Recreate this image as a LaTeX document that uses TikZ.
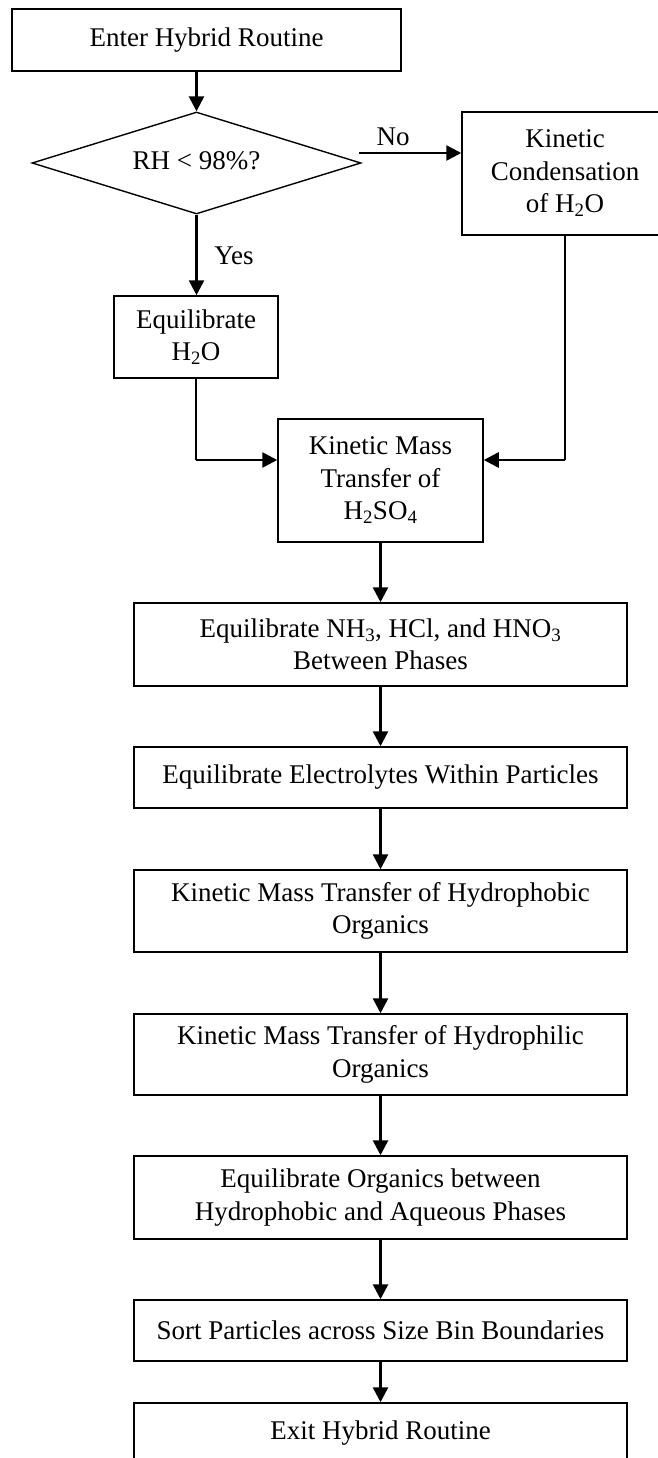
\documentclass[tikz,border=0pt]{standalone}
\usepackage{fontspec}
\setmainfont{Liberation Serif}
\usetikzlibrary{arrows.meta,shapes.geometric}
\begin{document}
\begin{tikzpicture}[x=1pt,y=-1pt,
  txt/.style={font=\fontsize{27}{32.5}\selectfont, align=center},
  box/.style={txt, draw, line width=1.5pt, rectangle, inner sep=0pt},
  arr/.style={line width=2.6pt, -{Triangle[length=15pt,width=15pt]}},
  thinline/.style={line width=1.4pt}]
\useasboundingbox (0,0) rectangle (658,1458);
\fill[white] (0,0) rectangle (658,1458);

\node[box, minimum width=389pt, minimum height=62pt] (enter) at (206.5,40) {Enter Hybrid Routine};
\node[txt, draw, diamond, aspect=3.2, line width=1.4pt, minimum width=329pt, minimum height=102pt, inner sep=0pt] (dia) at (196.5,163) {\raisebox{5pt}{RH < 98\%?}};
\node[box, minimum width=206pt, minimum height=123pt] (kc) at (565,173.5) {Kinetic\\Condensation\\of H\textsubscript{2}O};
\node[box, minimum width=164pt, minimum height=82pt] (eq) at (196,337) {Equilibrate\\H\textsubscript{2}O};
\node[box, minimum width=205pt, minimum height=123pt] (kmt) at (380.5,480.5) {Kinetic Mass\\Transfer of\\H\textsubscript{2}SO\textsubscript{4}};
\node[box, minimum width=493pt, minimum height=83pt] (nh3) at (380.5,644.5) {Equilibrate NH\textsubscript{3}, HCl, and HNO\textsubscript{3}\\Between Phases};
\node[box, minimum width=493pt, minimum height=61pt] (elec) at (380.5,777.5) {Equilibrate Electrolytes Within Particles};
\node[box, minimum width=493pt, minimum height=82pt] (phob) at (380.5,911) {Kinetic Mass Transfer of Hydrophobic\\Organics};
\node[box, minimum width=493pt, minimum height=81pt] (phil) at (380.5,1054.5) {Kinetic Mass Transfer of Hydrophilic\\Organics};
\node[box, minimum width=493pt, minimum height=83pt] (org) at (380.5,1197.5) {Equilibrate Organics between\\Hydrophobic and Aqueous Phases};
\node[box, minimum width=493pt, minimum height=61pt] (sort) at (380.5,1330.5) {Sort Particles across Size Bin Boundaries};
\node[box, minimum width=493pt, minimum height=61pt] (exit) at (380.5,1433.5) {Exit Hybrid Routine};

\node[txt] (nolbl) at (393,137) {No};
\node[txt] (yeslbl) at (234,256) {Yes};

\draw[arr] (enter.south -| dia.north) -- (dia.north);
\coordinate (nostart) at (359,153);
\draw[arr] (nostart) -- (nostart -| kc.west);
\draw[arr] (dia.south) -- (dia.south |- eq.north);
\coordinate (j1) at (196,460);
\coordinate (j2) at (565,460);
\draw[thinline] (eq.south) -- (j1);
\draw[arr] (j1) -- (j1 -| kmt.west);
\draw[thinline] (kc.south) -- (j2);
\draw[arr] (j2) -- (j2 -| kmt.east);
\draw[arr] (kmt.south) -- (nh3.north);
\draw[arr] (nh3.south) -- (elec.north);
\draw[arr] (elec.south) -- (phob.north);
\draw[arr] (phob.south) -- (phil.north);
\draw[arr] (phil.south) -- (org.north);
\draw[arr] (org.south) -- (sort.north);
\draw[arr] (sort.south) -- (exit.north);
\end{tikzpicture}
\end{document}
